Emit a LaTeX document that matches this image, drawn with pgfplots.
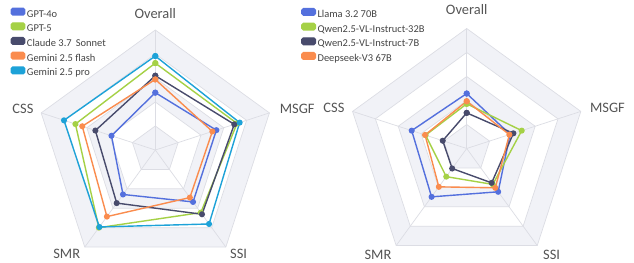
\documentclass[border=0pt]{standalone}
\usepackage{fontspec}
\setmainfont{Carlito}
\usepackage{pgfplots}
\pgfplotsset{compat=1.18}
\usepgfplotslibrary{polar}

\definecolor{cA}{HTML}{5470DD}
\definecolor{cB}{HTML}{A5D146}
\definecolor{cC}{HTML}{484B6C}
\definecolor{cD}{HTML}{FA8C4E}
\definecolor{cE}{HTML}{1DA2D8}
\definecolor{shade}{HTML}{F1F2F7}
\definecolor{gridc}{HTML}{DCDDE4}
\definecolor{labc}{HTML}{555555}
\definecolor{legc}{HTML}{444444}

\tikzset{lab/.style={text=labc, font=\fontsize{14.5}{16}\selectfont, anchor=center, inner sep=0pt}}
\pgfplotsset{
  radar/.style={hide axis, scale only axis, width=634bp, height=263bp,
    clip=false, at={(0,0)}, anchor=south west,
    legend cell align=left,
    legend image code/.code={\fill[##1, rounded corners=1.6bp] (0bp,-0.2bp) rectangle (13.5bp,6.4bp);},
    legend style={draw=none, fill=none, anchor=north west, text=legc,
      font=\fontsize{10.5}{12}\selectfont, row sep=2.6bp,
      nodes={inner ysep=0pt, inner xsep=1.5bp, text height=7.4bp, text depth=2.6bp}}},
  ser/.style={color=#1, line width=1.4bp, mark=*, mark size=2.3bp, data cs=polar,
    mark options={solid, fill=#1, draw=#1}},
}

\newcommand\ring[2]{\addplot[fill=#1, draw=gridc, line width=0.7bp, forget plot, data cs=polar]
  coordinates {(90,#2)(18,#2)(-54,#2)(-126,#2)(-198,#2)(-270,#2)};}
\newcommand\spoke[1]{\addplot[draw=gridc, line width=0.7bp, forget plot, data cs=polar]
  coordinates {(#1,0)(#1,1)};}
\newcommand\radargrid{%
  \ring{shade}{1}\ring{white}{0.8}\ring{shade}{0.6}\ring{white}{0.4}\ring{shade}{0.2}%
  \spoke{90}\spoke{18}\spoke{-54}\spoke{-126}\spoke{-198}}

\begin{document}
\begin{tikzpicture}
\useasboundingbox (0,0) rectangle (634bp,263bp);
% ---------------- left radar ----------------
\begin{axis}[radar,
  xmin=-1.2942, xmax=3.9892, ymin=-0.9417, ymax=1.25,
  legend style={at={(axis cs:-1.233,1.205)}}]
\radargrid
\addplot[ser=cA] coordinates {(90,0.478)(18,0.535)(-54,0.535)(-126,0.458)(-198,0.384)(-270,0.478)};
\addlegendentry{GPT-4o}
\addplot[ser=cB] coordinates {(90,0.724)(18,0.716)(-54,0.645)(-126,0.800)(-198,0.700)(-270,0.724)};
\addlegendentry{GPT-5}
\addplot[ser=cC] coordinates {(90,0.619)(18,0.692)(-54,0.662)(-126,0.547)(-198,0.525)(-270,0.619)};
\addlegendentry{Claude 3.7\, Sonnet}
\addplot[ser=cD] coordinates {(90,0.588)(18,0.500)(-54,0.490)(-126,0.686)(-198,0.640)(-270,0.588)};
\addlegendentry{Gemini 2.5 flash}
\addplot[ser=cE] coordinates {(90,0.783)(18,0.739)(-54,0.762)(-126,0.793)(-198,0.800)(-270,0.783)};
\addlegendentry{Gemini 2.5 pro}
\node[lab] at (axis cs:0,1.133) {Overall};
\node[lab] at (axis cs:1.183,0.342) {MSGF};
\node[lab] at (axis cs:0.694,-0.867) {SSI};
\node[lab] at (axis cs:-0.738,-0.867) {SMR};
\node[lab] at (axis cs:-1.103,0.342) {CSS};
\end{axis}
% ---------------- right radar ----------------
\begin{axis}[radar,
  xmin=-3.8892, xmax=1.3942, ymin=-0.9542, ymax=1.2375,
  legend style={at={(axis cs:-1.406,1.19)}}]
\radargrid
\addplot[ser=cA] coordinates {(90,0.458)(18,0.380)(-54,0.446)(-126,0.498)(-198,0.482)(-270,0.458)};
\addlegendentry{Llama 3.2 70B}
\addplot[ser=cB] coordinates {(90,0.372)(18,0.482)(-54,0.370)(-126,0.290)(-198,0.360)(-270,0.372)};
\addlegendentry{Qwen2.5-VL-Instruct-32B}
\addplot[ser=cC] coordinates {(90,0.297)(18,0.409)(-54,0.354)(-126,0.206)(-198,0.210)(-270,0.297)};
\addlegendentry{Qwen2.5-VL-Instruct-7B}
\addplot[ser=cD] coordinates {(90,0.394)(18,0.374)(-54,0.405)(-126,0.395)(-198,0.365)(-270,0.394)};
\addlegendentry{Deepseek-V3 67B}
\node[lab] at (axis cs:0,1.154) {Overall};
\node[lab] at (axis cs:1.173,0.342) {MSGF};
\node[lab] at (axis cs:0.708,-0.8875) {SSI};
\node[lab] at (axis cs:-0.739,-0.8875) {SMR};
\node[lab] at (axis cs:-1.106,0.342) {CSS};
\end{axis}
\end{tikzpicture}
\end{document}
